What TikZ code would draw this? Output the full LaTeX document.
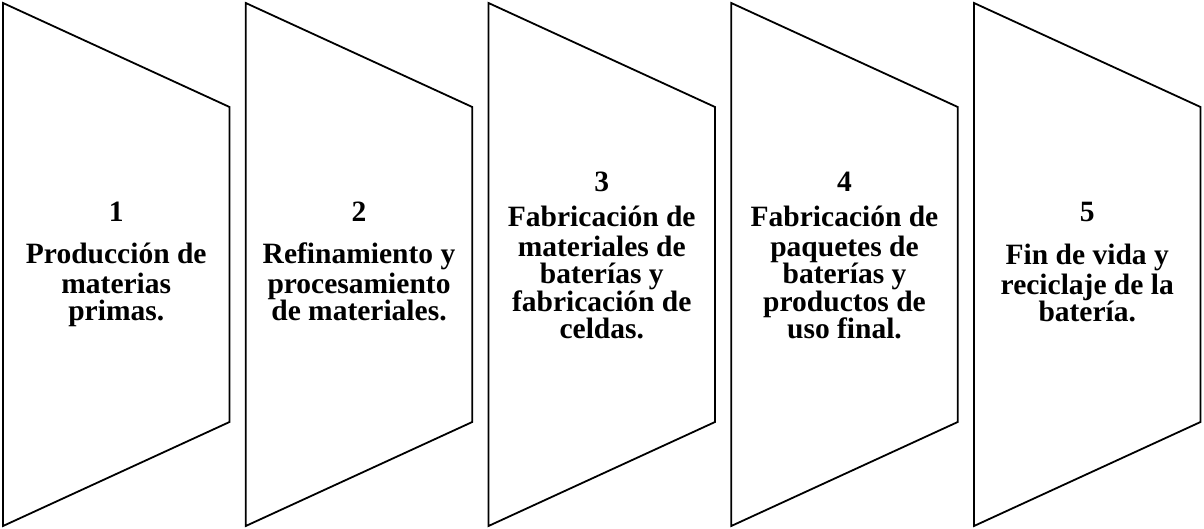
\documentclass[tikz,border=0pt]{standalone}
\usepackage{fontspec}
\setmainfont{Liberation Serif}
\usetikzlibrary{positioning}

\begin{document}
\begin{tikzpicture}[x=1pt, y=-1pt,
    stage_shape/.style={draw=black, line width=1.8pt, line join=miter},
    stage_num/.style={anchor=base, inner sep=0pt,
      font=\fontsize{29.5}{27.5}\selectfont\bfseries},
    stage_text/.style={anchor=north, inner sep=0pt, align=center,
      font=\fontsize{29.5}{27.5}\selectfont\bfseries}]

    \useasboundingbox (0,0) rectangle (1204,529);

    % trapezoid outlines, one per stage
    \foreach \i in {0,...,4} {
      \pgfmathsetmacro{\xl}{3+242.75*\i}
      \draw[stage_shape] (\xl,3) -- (\xl+226.5,107) -- (\xl+226.5,422) -- (\xl,526) -- cycle;
    }

    % stage numbers
    \node [stage_num] (num1) at (116.25,222) {1};
    \node [stage_num] (num2) at (359,222) {2};
    \node [stage_num] (num3) at (601.75,192) {3};
    \node [stage_num] (num4) at (844.5,192) {4};
    \node [stage_num] (num5) at (1087.25,222) {5};

    % stage descriptions
    \node [stage_text] (txt1) at (116.25,242.75) {\strut Producción de\\materias\\primas.};
    \node [stage_text] (txt2) at (359,242.75) {\strut Refinamiento y\\procesamiento\\de materiales.};
    \node [stage_text] (txt3) at (601.75,205.75) {\strut Fabricación de\\materiales de\\baterías y\\fabricación de\\celdas.};
    \node [stage_text] (txt4) at (844.5,205.75) {\strut Fabricación de\\paquetes de\\baterías y\\productos de\\uso final.};
    \node [stage_text] (txt5) at (1087.25,243.75) {\strut Fin de vida y\\reciclaje de la\\batería.};

\end{tikzpicture}
\end{document}
